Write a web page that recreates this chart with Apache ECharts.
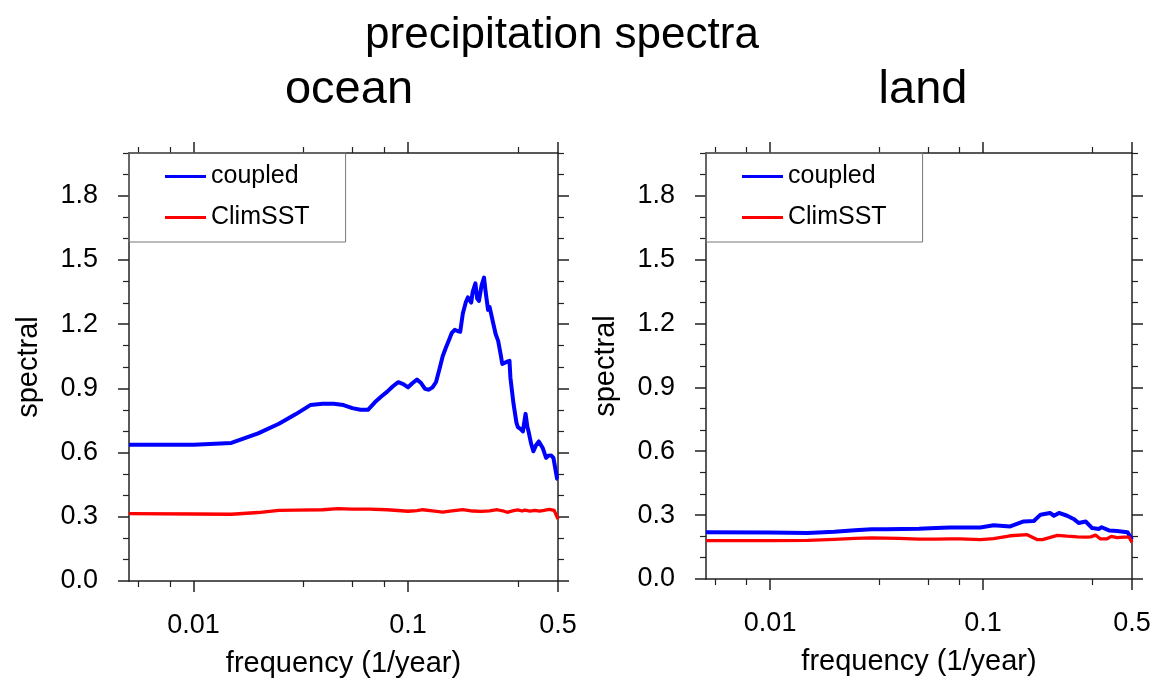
<!DOCTYPE html>
<html>
<head>
<meta charset="utf-8">
<title>precipitation spectra</title>
<script src="https://cdn.jsdelivr.net/npm/echarts@6/dist/echarts.min.js"></script>
<style>
  html, body { margin: 0; padding: 0; background: #fff; }
  #chart { width: 1154px; height: 683px; }
</style>
</head>
<body>
<div id="chart"></div>
<script>
// ---- data: spectral power vs frequency (1/year) ----
const oceanCoupledFreq = [0.005, 0.01, 0.015, 0.02, 0.025, 0.03, 0.035, 0.04, 0.045, 0.05, 0.055, 0.06, 0.065, 0.07, 0.075, 0.08, 0.085, 0.09, 0.095, 0.1, 0.105, 0.11, 0.115, 0.12, 0.125, 0.13, 0.135, 0.14, 0.145, 0.15, 0.155, 0.16, 0.165, 0.17, 0.175, 0.18, 0.186, 0.19, 0.197, 0.2, 0.206, 0.21, 0.214, 0.22, 0.226, 0.23, 0.236, 0.24, 0.244, 0.25, 0.256, 0.263, 0.27, 0.275, 0.28, 0.29, 0.297, 0.30, 0.31, 0.32, 0.325, 0.335, 0.343, 0.353, 0.36, 0.365, 0.375, 0.384, 0.395, 0.407, 0.415, 0.425, 0.44, 0.45, 0.464, 0.476, 0.485, 0.495, 0.5];
const oceanCoupledVal  = [0.637, 0.637, 0.645, 0.69, 0.735, 0.78, 0.822, 0.828, 0.828, 0.822, 0.808, 0.80, 0.80, 0.835, 0.862, 0.885, 0.91, 0.929, 0.92, 0.905, 0.925, 0.941, 0.925, 0.898, 0.894, 0.905, 0.93, 0.99, 1.05, 1.09, 1.125, 1.16, 1.174, 1.168, 1.165, 1.25, 1.304, 1.325, 1.301, 1.35, 1.391, 1.32, 1.309, 1.38, 1.418, 1.35, 1.267, 1.28, 1.286, 1.2, 1.154, 1.122, 1.06, 1.014, 1.016, 1.025, 1.029, 0.95, 0.83, 0.74, 0.719, 0.71, 0.699, 0.781, 0.72, 0.696, 0.64, 0.606, 0.635, 0.652, 0.648, 0.62, 0.575, 0.585, 0.587, 0.575, 0.57, 0.478, 0.475];

const oceanClimFreq = [0.005, 0.01, 0.015, 0.02, 0.025, 0.03, 0.04, 0.047, 0.055, 0.066, 0.08, 0.1, 0.11, 0.117, 0.13, 0.145, 0.16, 0.18, 0.2, 0.22, 0.24, 0.26, 0.28, 0.29, 0.31, 0.325, 0.34, 0.35, 0.37, 0.39, 0.41, 0.43, 0.455, 0.48, 0.5];
const oceanClimVal  = [0.315, 0.313, 0.312, 0.32, 0.33, 0.331, 0.333, 0.338, 0.336, 0.336, 0.333, 0.326, 0.329, 0.333, 0.328, 0.322, 0.328, 0.334, 0.327, 0.325, 0.328, 0.333, 0.326, 0.321, 0.329, 0.332, 0.327, 0.331, 0.327, 0.33, 0.327, 0.33, 0.335, 0.33, 0.289];

const landCoupledFreq = [0.005, 0.01, 0.015, 0.02, 0.025, 0.03, 0.035, 0.05, 0.06, 0.07, 0.078, 0.097, 0.112, 0.134, 0.155, 0.173, 0.186, 0.206, 0.215, 0.227, 0.248, 0.266, 0.281, 0.303, 0.325, 0.35, 0.36, 0.39, 0.425, 0.476, 0.5];
const landCoupledVal  = [0.219, 0.218, 0.216, 0.222, 0.229, 0.233, 0.234, 0.236, 0.239, 0.242, 0.242, 0.242, 0.252, 0.247, 0.27, 0.272, 0.302, 0.31, 0.297, 0.31, 0.297, 0.282, 0.263, 0.27, 0.239, 0.235, 0.243, 0.228, 0.225, 0.22, 0.185];

const landClimFreq = [0.005, 0.01, 0.015, 0.02, 0.025, 0.03, 0.04, 0.05, 0.06, 0.07, 0.078, 0.097, 0.112, 0.134, 0.161, 0.179, 0.19, 0.223, 0.248, 0.277, 0.303, 0.32, 0.337, 0.356, 0.38, 0.40, 0.425, 0.458, 0.484, 0.5];
const landClimVal  = [0.18, 0.18, 0.181, 0.186, 0.191, 0.193, 0.191, 0.187, 0.187, 0.188, 0.188, 0.185, 0.19, 0.203, 0.208, 0.185, 0.185, 0.205, 0.201, 0.198, 0.197, 0.198, 0.206, 0.188, 0.188, 0.2, 0.194, 0.197, 0.197, 0.172];

// ---- axis ticks ----
const xMajorTicks = [0.01, 0.1, 0.5];
const xMinorTicks = [0.0055, 0.00775, 0.0325, 0.055, 0.0775, 0.325];
const yMajorTicks = [0, 0.3, 0.6, 0.9, 1.2, 1.5, 1.8];
const yMinorTicks = [0.1, 0.2, 0.4, 0.5, 0.7, 0.8, 1.0, 1.1, 1.3, 1.4, 1.6, 1.7, 1.9, 2.0];

const seriesNames = ['coupled', 'ClimSST'];
const panelTitles = ['ocean', 'land'];

const FONT = "'Liberation Sans', Arial, Helvetica, sans-serif";
const AXIS_COLOR = '#222';

const pairs = (xs, ys) => xs.map((x, i) => [x, ys[i]]);

// panel frames in pixels
const panels = [
  { left: 129, top: 153, width: 429, height: 430, titleX: 344 },
  { left: 706, top: 153, width: 426, height: 426, titleX: 918 }
];

const grids = [], xAxes = [], yAxes = [], legends = [], titles = [];

titles.push({
  text: 'precipitation spectra', left: 557, top: 9, textAlign: 'center',
  textStyle: { fontFamily: FONT, fontSize: 44, fontWeight: 'normal', color: '#000' }
});

panels.forEach((p, gi) => {
  grids.push({ left: p.left, top: p.top, width: p.width, height: p.height, containLabel: false });
  titles.push({
    text: panelTitles[gi], left: p.titleX, top: 62, textAlign: 'center',
    textStyle: { fontFamily: FONT, fontSize: 47, fontWeight: 'normal', color: '#000' }
  });

  const xBase = { gridIndex: gi, type: 'log', logBase: 10, min: 0.005, max: 0.5, splitLine: { show: false } };
  const yBase = { gridIndex: gi, type: 'value', min: 0, max: 2, splitLine: { show: false } };
  const line = { show: true, onZero: false, lineStyle: { color: AXIS_COLOR, width: 1.5 } };
  const noLine = { show: false, onZero: false };
  const majorTick = { show: true, inside: false, length: 11, lineStyle: { color: AXIS_COLOR, width: 1.5 } };
  const minorTick = { show: true, inside: false, length: 6, lineStyle: { color: AXIS_COLOR, width: 1.2 } };

  // bottom: major ticks + labels + name
  xAxes.push(Object.assign({}, xBase, {
    position: 'bottom', axisLine: line,
    axisTick: Object.assign({ customValues: xMajorTicks }, majorTick),
    axisLabel: { show: true, customValues: xMajorTicks, margin: 31, fontFamily: FONT, fontSize: 27, color: '#000',
      formatter: v => String(+(+v).toPrecision(3)) },
    name: 'frequency (1/year)', nameLocation: 'middle', nameGap: 68,
    nameTextStyle: { fontFamily: FONT, fontSize: 29, color: '#000' }
  }));
  // bottom: minor ticks
  xAxes.push(Object.assign({}, xBase, {
    position: 'bottom', axisLine: noLine,
    axisTick: Object.assign({ customValues: xMinorTicks }, minorTick),
    axisLabel: { show: false }
  }));
  // top: major + minor ticks
  xAxes.push(Object.assign({}, xBase, {
    position: 'top', axisLine: line,
    axisTick: Object.assign({ customValues: xMajorTicks }, majorTick),
    axisLabel: { show: false }
  }));
  xAxes.push(Object.assign({}, xBase, {
    position: 'top', axisLine: noLine,
    axisTick: Object.assign({ customValues: xMinorTicks }, minorTick),
    axisLabel: { show: false }
  }));

  // left: major ticks + labels + name
  yAxes.push(Object.assign({}, yBase, {
    position: 'left', axisLine: line,
    axisTick: Object.assign({ customValues: yMajorTicks }, majorTick),
    axisLabel: { show: true, customValues: yMajorTicks, margin: 31, fontFamily: FONT, fontSize: 27, color: '#000',
      formatter: v => (+v).toFixed(1) },
    name: 'spectral', nameLocation: 'middle', nameGap: 86, nameRotate: 90,
    nameTextStyle: { fontFamily: FONT, fontSize: 29, color: '#000' }
  }));
  yAxes.push(Object.assign({}, yBase, {
    position: 'left', axisLine: noLine,
    axisTick: Object.assign({ customValues: yMinorTicks }, minorTick),
    axisLabel: { show: false }
  }));
  // right: major + minor ticks
  yAxes.push(Object.assign({}, yBase, {
    position: 'right', axisLine: line,
    axisTick: Object.assign({ customValues: yMajorTicks }, majorTick),
    axisLabel: { show: false }
  }));
  yAxes.push(Object.assign({}, yBase, {
    position: 'right', axisLine: noLine,
    axisTick: Object.assign({ customValues: yMinorTicks }, minorTick),
    axisLabel: { show: false }
  }));

  legends.push({
    left: p.left, top: p.top, orient: 'vertical', selectedMode: false,
    data: seriesNames, icon: 'rect', itemWidth: 41, itemHeight: 3, itemGap: 16,
    padding: [11, 36, 12, 36], borderColor: '#777', borderWidth: 1,
    textStyle: { fontFamily: FONT, fontSize: 25, color: '#000' }
  });
});

const panelData = [
  [pairs(oceanCoupledFreq, oceanCoupledVal), pairs(oceanClimFreq, oceanClimVal)],
  [pairs(landCoupledFreq, landCoupledVal), pairs(landClimFreq, landClimVal)]
];
const colors = ['#0000ff', '#ff0000'];
const widths = [4, 3.3];

const series = [];
panelData.forEach((sets, gi) => {
  sets.forEach((d, si) => {
    series.push({
      name: seriesNames[si], type: 'line', data: d,
      xAxisIndex: gi * 4, yAxisIndex: gi * 4,
      showSymbol: false, symbol: 'none', silent: true, animation: false,
      color: colors[si],
      lineStyle: { color: colors[si], width: widths[si], join: 'round' }
    });
  });
});

const chart = echarts.init(document.getElementById('chart'), null, { renderer: 'canvas' });
chart.setOption({
  animation: false,
  backgroundColor: '#fff',
  title: titles,
  grid: grids,
  xAxis: xAxes,
  yAxis: yAxes,
  legend: legends,
  series: series
});
</script>
</body>
</html>
